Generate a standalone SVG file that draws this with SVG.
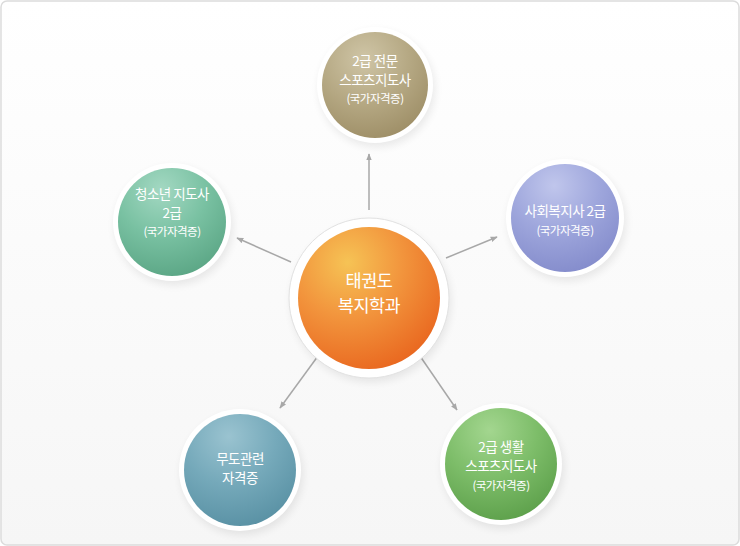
<svg xmlns="http://www.w3.org/2000/svg" width="740" height="546" viewBox="0 0 740 546">
<defs>
  <linearGradient id="bg" x1="0" y1="0" x2="0" y2="1">
    <stop offset="0" stop-color="#ffffff"/>
    <stop offset="0.55" stop-color="#fafafa"/>
    <stop offset="1" stop-color="#f6f6f6"/>
  </linearGradient>
  <radialGradient id="gOrange" cx="0.35" cy="0.25" r="0.85">
    <stop offset="0" stop-color="#f6c355"/>
    <stop offset="0.45" stop-color="#f2953d"/>
    <stop offset="1" stop-color="#e8621c"/>
  </radialGradient>
  <radialGradient id="gTan" cx="0.4" cy="0.25" r="0.85">
    <stop offset="0" stop-color="#cfc5a6"/>
    <stop offset="0.5" stop-color="#b5a883"/>
    <stop offset="1" stop-color="#9a8a62"/>
  </radialGradient>
  <radialGradient id="gTeal" cx="0.4" cy="0.2" r="0.85">
    <stop offset="0" stop-color="#a3d8c2"/>
    <stop offset="0.5" stop-color="#79c1a2"/>
    <stop offset="1" stop-color="#5aa584"/>
  </radialGradient>
  <radialGradient id="gBlue" cx="0.4" cy="0.2" r="0.85">
    <stop offset="0" stop-color="#c0c6ec"/>
    <stop offset="0.5" stop-color="#9ea6dc"/>
    <stop offset="1" stop-color="#838bcb"/>
  </radialGradient>
  <radialGradient id="gSteel" cx="0.4" cy="0.2" r="0.85">
    <stop offset="0" stop-color="#9ac3d0"/>
    <stop offset="0.5" stop-color="#75a9ba"/>
    <stop offset="1" stop-color="#5890a3"/>
  </radialGradient>
  <radialGradient id="gGreen" cx="0.4" cy="0.2" r="0.85">
    <stop offset="0" stop-color="#a3d68f"/>
    <stop offset="0.5" stop-color="#7dbd69"/>
    <stop offset="1" stop-color="#5c9f4a"/>
  </radialGradient>
  <filter id="sh" x="-30%" y="-30%" width="160%" height="160%">
    <feGaussianBlur stdDeviation="4"/>
  </filter>
  <marker id="arr" viewBox="0 0 10 10" refX="9" refY="5" markerWidth="7" markerHeight="7" orient="auto" markerUnits="userSpaceOnUse">
    <path d="M0,1 L10,5 L0,9 Z" fill="#a8a8a8"/>
  </marker>
  <style>
    .t { font-family: "Noto Sans CJK KR", "Noto Sans", sans-serif; fill: #ffffff; text-anchor: middle; }
    .l { font-size: 13.5px; letter-spacing: -0.5px; }
    .s { font-size: 11.5px; letter-spacing: -0.5px; }
    .c { font-size: 17.5px; letter-spacing: -0.5px; }
    .halo { fill: #ffffff; }
    .shadow { fill: #000000; opacity: 0.08; filter: url(#sh); }
    .conn { stroke: #a8a8a8; stroke-width: 1.5; fill: none; marker-end: url(#arr); }
  </style>
</defs>

<rect x="1" y="1" width="738" height="544" rx="6" ry="6" fill="url(#bg)" stroke="#dcdcdc" stroke-width="1.5"/>

<g id="connectors">
  <line class="conn" x1="369" y1="210" x2="369" y2="154"/>
  <line class="conn" x1="291" y1="262" x2="237" y2="238"/>
  <line class="conn" x1="446" y1="258" x2="497" y2="237"/>
  <line class="conn" x1="318" y1="356" x2="280" y2="408"/>
  <line class="conn" x1="420" y1="356" x2="457" y2="410"/>
</g>

<g id="center">
  <circle class="shadow" cx="371" cy="302" r="80"/>
  <circle cx="369" cy="298" r="80" fill="#ffffff" stroke="#e2e2e2" stroke-width="1"/>
  <circle cx="369" cy="298" r="71" fill="url(#gOrange)"/>
  <text class="t c" x="369" y="287">태권도</text>
  <text class="t c" x="369" y="312">복지학과</text>
</g>

<g id="node-top">
  <circle class="shadow" cx="377" cy="89" r="58"/>
  <circle class="halo" cx="375" cy="85" r="58"/>
  <circle cx="375" cy="85" r="53" fill="url(#gTan)"/>
  <text class="t l" x="375" y="66">2급 전문</text>
  <text class="t l" x="375" y="85">스포츠지도사</text>
  <text class="t s" x="375" y="103">(국가자격증)</text>
</g>

<g id="node-left">
  <circle class="shadow" cx="174" cy="226" r="59"/>
  <circle class="halo" cx="172" cy="222" r="59"/>
  <circle cx="172" cy="222" r="54" fill="url(#gTeal)"/>
  <text class="t l" x="172" y="199">청소년 지도사</text>
  <text class="t l" x="172" y="218">2급</text>
  <text class="t s" x="172" y="236">(국가자격증)</text>
</g>

<g id="node-right">
  <circle class="shadow" cx="567" cy="222" r="59"/>
  <circle class="halo" cx="565" cy="218" r="59"/>
  <circle cx="565" cy="218" r="54" fill="url(#gBlue)"/>
  <text class="t l" x="565" y="216">사회복지사 2급</text>
  <text class="t s" x="565" y="235">(국가자격증)</text>
</g>

<g id="node-bottom-left">
  <circle class="shadow" cx="242" cy="474" r="61"/>
  <circle class="halo" cx="240" cy="470" r="61"/>
  <circle cx="240" cy="470" r="56" fill="url(#gSteel)"/>
  <text class="t l" x="240" y="464">무도관련</text>
  <text class="t l" x="240" y="483">자격증</text>
</g>

<g id="node-bottom-right">
  <circle class="shadow" cx="503" cy="468" r="61"/>
  <circle class="halo" cx="501" cy="464" r="61"/>
  <circle cx="501" cy="464" r="56" fill="url(#gGreen)"/>
  <text class="t l" x="501" y="452">2급 생활</text>
  <text class="t l" x="501" y="471">스포츠지도사</text>
  <text class="t s" x="501" y="490">(국가자격증)</text>
</g>
</svg>
